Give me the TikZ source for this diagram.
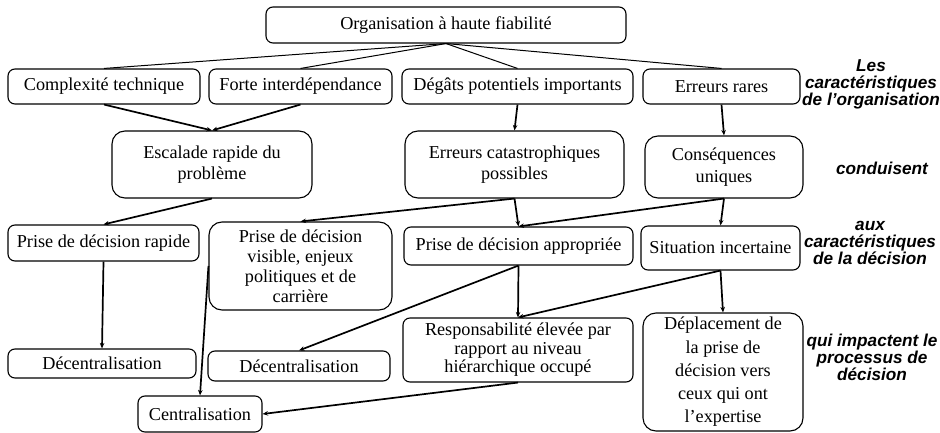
\documentclass[tikz,border=0pt]{standalone}
\usepackage{fontspec}
\setmainfont{Liberation Serif}
\setsansfont{Liberation Sans}
\usetikzlibrary{arrows.meta}
\begin{document}
\begin{tikzpicture}[x=1pt,y=-1pt,
  box/.style={draw, line width=1.1pt, rounded corners=7pt, inner sep=0pt, align=center,
    font=\fontsize{18.2}{21.5}\selectfont},
  bigbox/.style={box, rounded corners=13pt},
  link/.style={line width=1pt},
  arr/.style={line width=1.7pt, -{Stealth[length=5.5pt,width=4.5pt]}},
  lab/.style={align=center, font=\sffamily\bfseries\itshape\fontsize{17.2}{17}\selectfont}]
\useasboundingbox (0,0) rectangle (940,433);
% row 0
\node[box, minimum width=360pt, minimum height=36pt] (top) at (446,25) {Organisation à haute fiabilité};
% row 1
\node[box, minimum width=192pt, minimum height=35pt] (c1) at (104,86.5) {Complexité technique};
\node[box, minimum width=183pt, minimum height=35pt] (c2) at (300.5,86.5) {\raisebox{-3pt}{Forte interdépendance}};
\node[box, minimum width=231pt, minimum height=35pt] (c3) at (517.5,86.5) {Dégâts potentiels importants};
\node[box, minimum width=157pt, minimum height=35pt] (c4) at (721.5,86.5) {Erreurs rares};
% row 2
\node[bigbox, minimum width=200pt, minimum height=67pt] (d1) at (212,164.5) {Escalade rapide du\\problème};
\node[bigbox, minimum width=219pt, minimum height=67pt] (d2) at (514.5,164.5) {Erreurs catastrophiques\\possibles};
\node[bigbox, minimum width=158pt, minimum height=62pt] (d3) at (724,167) {Conséquences\\uniques};
% row 3
\node[box, minimum width=191pt, minimum height=36pt] (e1) at (103.5,243) {Prise de décision rapide};
\node[bigbox, minimum width=183pt, minimum height=88pt, font=\fontsize{18.2}{20}\selectfont] (e2) at (300.5,266) {Prise de décision\\visible, enjeux\\politiques et de\\carrière};
\node[box, minimum width=229pt, minimum height=38pt] (e3) at (518.5,246) {Prise de décision appropriée};
\node[box, minimum width=159pt, minimum height=44pt] (e4) at (720.5,248) {Situation incertaine};
% row 4
\node[box, minimum width=188pt, minimum height=29pt] (f1) at (102,363.5) {Décentralisation};
\node[box, minimum width=182pt, minimum height=30pt] (f2) at (299,366) {Décentralisation};
\node[box, minimum width=230pt, minimum height=64pt, font=\fontsize{18.2}{18.5}\selectfont] (f3) at (518,350) {Responsabilité élevée par\\rapport au niveau\\hiérarchique occupé};
\node[bigbox, minimum width=160pt, minimum height=118pt, font=\fontsize{18.2}{23.3}\selectfont] (f4) at (723,372) {Déplacement de\\la prise de\\décision vers\\ceux qui ont\\l’expertise};
\node[box, minimum width=124pt, minimum height=36pt] (g1) at (200,414) {Centralisation};
% labels
\node[lab] (l1) at (871,84) {Les\\caractéristiques\\de l’organisation};
\node[lab] (l2) at (882,168) {conduisent};
\node[lab] (l3) at (870,243) {aux\\caractéristiques\\de la décision};
\node[lab] (l4) at (872,357) {qui impactent le\\processus de\\décision};
% links from top
\draw[link] (top.south) -- (c1.north);
\draw[link] (top.south) -- (c2.north);
\draw[link] (top.south) -- (c3.north);
\draw[link] (top.south) -- (c4.north);
% arrows
\draw[arr] (c1.south) -- (d1.north);
\draw[arr] (c2.south) -- (d1.north);
\draw[arr] (c3.south) -- (d2.north);
\draw[arr] (c4.south) -- (d3.north);
\draw[arr] (d1.south) -- (e1.north);
\draw[arr] (d2.south) -- (e2.north);
\draw[arr] (d2.south) -- (e3.north);
\draw[arr] (d3.south) -- (e3.north);
\draw[arr] (d3.south) -- (e4.north);
\draw[arr] (e1.south) -- (f1.north);
\draw[arr] (e2.west) -- (g1.north);
\draw[arr] (e3.south) -- (f2.north);
\draw[arr] (e3.south) -- (f3.north);
\draw[arr] (e4.south) -- (f3.north);
\draw[arr] (e4.south) -- (f4.north);
\draw[arr] (f3.south) -- (g1.east);
\end{tikzpicture}
\end{document}
